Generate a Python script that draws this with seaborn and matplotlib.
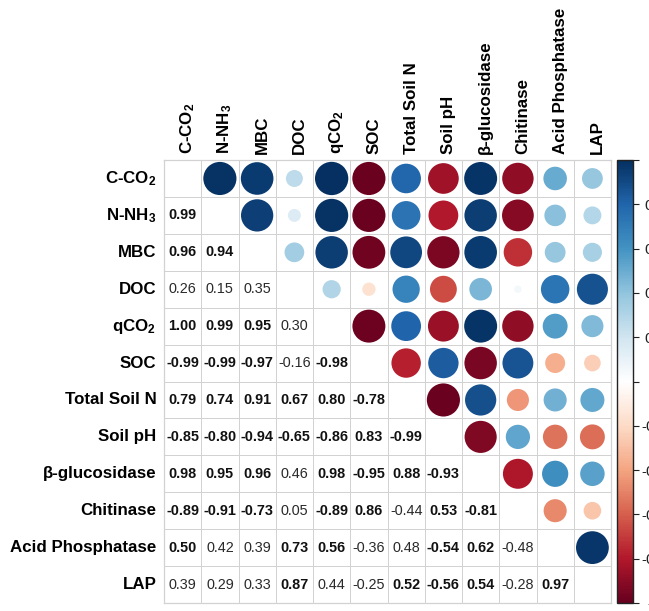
import numpy as np
import pandas as pd
import seaborn as sns
import matplotlib
matplotlib.use("Agg")
import matplotlib.pyplot as plt
from matplotlib.colors import LinearSegmentedColormap, ListedColormap, Normalize
from matplotlib.colorbar import ColorbarBase
from matplotlib.transforms import ScaledTranslation

# Soil / microbial variables
variables = [
    "C-CO$_\\mathbf{2}$", "N-NH$_\\mathbf{3}$", "MBC", "DOC", "qCO$_\\mathbf{2}$", "SOC",
    "Total Soil N", "Soil pH", "β-glucosidase", "Chitinase", "Acid Phosphatase", "LAP",
]

# Pearson correlations, lower triangle by row
row_n_nh3 = [0.99]
row_mbc = [0.96, 0.94]
row_doc = [0.26, 0.15, 0.35]
row_qco2 = [1.00, 0.99, 0.95, 0.30]
row_soc = [-0.99, -0.99, -0.97, -0.16, -0.98]
row_total_n = [0.79, 0.74, 0.91, 0.67, 0.80, -0.78]
row_ph = [-0.85, -0.80, -0.94, -0.65, -0.86, 0.83, -0.99]
row_bgluc = [0.98, 0.95, 0.96, 0.46, 0.98, -0.95, 0.88, -0.93]
row_chit = [-0.89, -0.91, -0.73, 0.05, -0.89, 0.86, -0.44, 0.53, -0.81]
row_acp = [0.50, 0.42, 0.39, 0.73, 0.56, -0.36, 0.48, -0.54, 0.62, -0.48]
row_lap = [0.39, 0.29, 0.33, 0.87, 0.44, -0.25, 0.52, -0.56, 0.54, -0.28, 0.97]

lower_rows = [[], row_n_nh3, row_mbc, row_doc, row_qco2, row_soc, row_total_n,
              row_ph, row_bgluc, row_chit, row_acp, row_lap]

colorbar_ticks = [-1, -0.8, -0.6, -0.4, -0.2, 0, 0.2, 0.4, 0.6, 0.8, 1]
colorbar_labels = ["-1", "-0.8", "-0.6", "-0.4", "-0.2", "0", "0.2", "0.4", "0.6", "0.8", "1"]

n = len(variables)
corr = np.eye(n)
for i, row in enumerate(lower_rows):
    for j, v in enumerate(row):
        corr[i, j] = v
        corr[j, i] = v

sns.set_theme(style="white")
plt.rcParams["font.family"] = ["Liberation Sans", "DejaVu Sans"]
plt.rcParams["mathtext.fontset"] = "custom"
plt.rcParams["mathtext.rm"] = "Liberation Sans"
plt.rcParams["mathtext.bf"] = "Liberation Sans:bold"
plt.rcParams["mathtext.it"] = "Liberation Sans:italic"

cmap = LinearSegmentedColormap.from_list(
    "rdbu_corr",
    ["#67001F", "#B2182B", "#D6604D", "#F4A582", "#FDDBC7", "#FFFFFF",
     "#D1E5F0", "#92C5DE", "#4393C3", "#2166AC", "#053061"],
)

fig = plt.figure(figsize=(6.49, 6.11), dpi=100)
ax = fig.add_axes([0.2527, 0.0131, 0.6888, 0.7250])

# White grid of cells
grid = pd.DataFrame(np.zeros((n, n)), index=variables, columns=variables)
sns.heatmap(grid, ax=ax, cmap=ListedColormap(["white"]), cbar=False,
            linewidths=0.6, linecolor="#d2d2d2", square=False)

# Circles in the upper triangle
records = []
for i in range(n):
    for j in range(i + 1, n):
        records.append({"x": j + 0.5, "y": i + 0.5, "r": corr[i, j], "absr": abs(corr[i, j])})
upper = pd.DataFrame(records)
sns.scatterplot(data=upper, x="x", y="y", hue="r", palette=cmap, hue_norm=(-1, 1),
                size="absr", sizes=(0, 575), size_norm=(0, 1), linewidth=0,
                legend=False, ax=ax, zorder=3)

# Coefficients in the lower triangle
for i in range(n):
    for j in range(i):
        v = corr[i, j]
        strong = abs(v) >= 0.5
        ax.text(j + 0.5, i + 0.5, f"{v:.2f}",
                ha="center", va="center", fontsize=10.4,
                fontweight="bold" if strong else "normal",
                color="#111111" if strong else "#2a2a2a")

ax.set_xlim(0, n)
ax.set_ylim(n, 0)
ax.set_xlabel("")
ax.set_ylabel("")
ax.set_xticks(np.arange(n) + 0.5)
ax.set_yticks(np.arange(n) + 0.5)
ax.set_xticklabels(variables, rotation=90, fontsize=12.2, fontweight="bold", color="black")
ax.set_yticklabels(variables, rotation=0, fontsize=12.2, fontweight="bold", color="black")
ax.xaxis.tick_top()
ax.tick_params(axis="x", length=0, pad=4)
ax.tick_params(axis="y", length=0, pad=5.5)
shift = ScaledTranslation(0.05, 0, fig.dpi_scale_trans)
for lbl in ax.get_xticklabels():
    lbl.set_verticalalignment("bottom")
    lbl.set_transform(lbl.get_transform() + shift)
for side in ["top", "bottom", "left", "right"]:
    ax.spines[side].set_visible(True)
    ax.spines[side].set_color("#d2d2d2")
    ax.spines[side].set_linewidth(0.9)

# Colour key
cax = fig.add_axes([0.9507, 0.0131, 0.0247, 0.7250])
cb = ColorbarBase(cax, cmap=cmap, norm=Normalize(-1, 1), orientation="vertical")
cb.outline.set_edgecolor("#222222")
cb.outline.set_linewidth(1.0)
cb.set_ticks(colorbar_ticks)
cb.set_ticklabels(colorbar_labels)
cax.tick_params(axis="y", length=4, width=0.8, color="#222222", pad=11.5,
                labelsize=11, labelcolor="#222222")
for lbl in cax.get_yticklabels():
    lbl.set_horizontalalignment("center")

fig.savefig("out.png", dpi=100)
